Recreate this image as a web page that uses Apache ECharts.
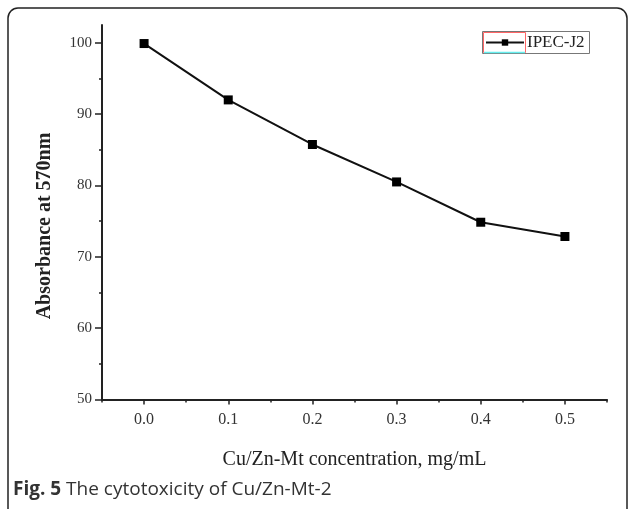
<!DOCTYPE html>
<html>
<head>
<meta charset="utf-8">
<script src="https://cdn.jsdelivr.net/npm/echarts@6/dist/echarts.min.js"></script>
<style>
html,body{margin:0;padding:0;background:#fff;}
#c{width:629px;height:509px;}
</style>
</head>
<body>
<div id="c"></div>
<script>
const concentrations = [0.0, 0.1, 0.2, 0.3, 0.4, 0.5];
const absorbance = [99.9, 92.0, 85.75, 80.5, 74.85, 72.85];
const xTickValues = [0.0, 0.1, 0.2, 0.3, 0.4, 0.5];
const yTickValues = [50, 60, 70, 80, 90, 100];
const yMinorValues = [55, 65, 75, 85, 95];
const seriesName = 'IPEC-J2';
const xTitle = 'Cu/Zn-Mt concentration, mg/mL';
const yTitle = 'Absorbance at 570nm';

const serif = 'Liberation Serif';
const chart = echarts.init(document.getElementById('c'), null, {renderer: 'canvas'});

const xBase = {
  type: 'value', min: -0.05, max: 0.55, position: 'bottom', offset: 0,
  splitLine: {show: false}
};
const yBase = {
  type: 'value', min: 50, max: 102.5, position: 'left', offset: 0,
  splitLine: {show: false}
};

chart.setOption({
  animation: false,
  backgroundColor: '#fff',
  grid: {left: 102, right: 22, top: 25, bottom: 109.5, containLabel: false},
  xAxis: [
    Object.assign({}, xBase, {
      interval: 0.05,
      axisLine: {show: true, onZero: false, lineStyle: {color: '#222', width: 2}},
      axisTick: {show: true, length: 3, inside: false, lineStyle: {color: '#222', width: 1.5}},
      axisLabel: {show: false},
      name: xTitle, nameLocation: 'middle', nameGap: 50,
      nameTextStyle: {fontFamily: serif, fontSize: 20, color: '#222'}
    }),
    Object.assign({}, xBase, {
      axisLine: {show: false, onZero: false},
      axisTick: {show: true, length: 5, customValues: xTickValues, lineStyle: {color: '#222', width: 1.5}},
      axisLabel: {show: true, customValues: xTickValues, margin: 12,
        fontFamily: serif, fontSize: 16, color: '#333',
        formatter: v => v.toFixed(1)}
    })
  ],
  yAxis: [
    Object.assign({}, yBase, {
      axisLine: {show: true, onZero: false, lineStyle: {color: '#222', width: 2}},
      axisTick: {show: true, length: 7, customValues: yTickValues, lineStyle: {color: '#222', width: 1.5}},
      axisLabel: {show: true, customValues: yTickValues, margin: 10,
        fontFamily: serif, fontSize: 15, color: '#333'}
    }),
    Object.assign({}, yBase, {
      axisLine: {show: false, onZero: false},
      axisTick: {show: true, length: 3, customValues: yMinorValues, lineStyle: {color: '#222', width: 1.5}},
      axisLabel: {show: false}
    })
  ],
  legend: {
    left: 485, top: 33, padding: 0,
    itemWidth: 38, itemHeight: 8, itemGap: 0,
    textStyle: {fontFamily: serif, fontSize: 17, color: '#222', padding: [0, 0, 0, -2], lineHeight: 19},
    data: [{name: seriesName}]
  },
  series: [{
    name: seriesName, type: 'line',
    xAxisIndex: 0, yAxisIndex: 0,
    data: concentrations.map((c, i) => [c, absorbance[i]]),
    symbol: 'rect', symbolSize: 9,
    lineStyle: {color: '#111', width: 2},
    itemStyle: {color: '#000'}
  }],
  graphic: [
    {type: 'rect', shape: {x: 8, y: 8, width: 619, height: 512, r: 10},
     style: {fill: 'none', stroke: '#222', lineWidth: 1.5}},
    {type: 'rect', shape: {x: 482.5, y: 31.5, width: 107, height: 22},
     style: {fill: 'none', stroke: '#777', lineWidth: 1}},
    {type: 'rect', shape: {x: 483.5, y: 32.5, width: 42, height: 20},
     style: {fill: 'none', stroke: '#f66', lineWidth: 1}},
    {type: 'line', shape: {x1: 484, y1: 52.5, x2: 525, y2: 52.5},
     style: {stroke: '#6ee', lineWidth: 1.5}},
    {type: 'text', x: 45, y: 226, rotation: Math.PI / 2,
     style: {text: yTitle, fontFamily: serif, fontSize: 20, fontWeight: 'bold', fill: '#222',
       align: 'center', verticalAlign: 'middle'}},
    {type: 'text', x: 13, y: 490,
     style: {text: '{b|Fig. 5} The cytotoxicity of Cu/Zn-Mt-2', fontFamily: 'Open Sans', fontSize: 19,
       fill: '#333', verticalAlign: 'middle',
       rich: {b: {fontFamily: 'Open Sans', fontWeight: 'bold', fontSize: 19, fill: '#333'}}}}
  ]
});
</script>
</body>
</html>
